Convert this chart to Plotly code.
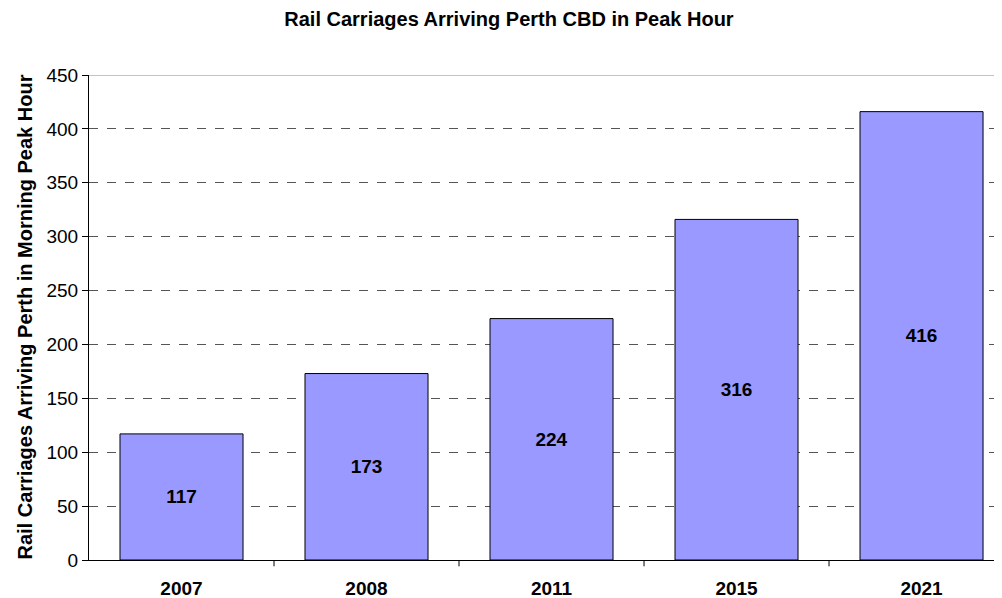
import plotly.graph_objects as go

years = ["2007", "2008", "2011", "2015", "2021"]
carriages = [117, 173, 224, 316, 416]
y_ticks = [0, 50, 100, 150, 200, 250, 300, 350, 400, 450]

fig = go.Figure()
fig.add_trace(go.Bar(
    x=list(range(len(years))), y=carriages, width=0.665,
    marker=dict(color="#9999FF", line=dict(color="black", width=1)),
    text=[str(v) for v in carriages], textposition="inside",
    insidetextanchor="middle", textangle=0,
    textfont=dict(family="Liberation Sans, Arial", size=19, color="black", weight="bold"),
))

shapes = []
for i in range(len(years) - 1):
    shapes.append(dict(type="line", xref="x", yref="paper", x0=i + 0.5, x1=i + 0.5,
                       y0=0, y1=-0.013, line=dict(color="black", width=1)))
shapes.append(dict(type="line", xref="paper", yref="y", x0=0, x1=1, y0=450, y1=450,
                   line=dict(color="#888888", width=1), layer="below"))
fig.update_layout(
    width=994, height=590,
    margin=dict(l=81, r=0, t=67, b=38),
    paper_bgcolor="white", plot_bgcolor="white",
    showlegend=False,
    font=dict(family="Liberation Sans, Arial", color="black"),
    title=dict(text="<b>Rail Carriages Arriving Perth CBD in Peak Hour</b>",
               x=0.504, xanchor="center", y=0.981, yanchor="middle",
               font=dict(size=20)),
    xaxis=dict(range=[-0.5, 4.435], tickvals=list(range(len(years))), ticktext=years,
               tickfont=dict(size=19, weight="bold"), showgrid=False, ticks="",
               showline=True, linecolor="black", linewidth=1, ticklabelstandoff=11,
               zeroline=False, automargin=False),
    yaxis=dict(range=[0, 450], tickvals=y_ticks, tickfont=dict(size=19),
               showgrid=True, gridcolor="#555555", griddash="dash", gridwidth=1,
               ticks="outside", ticklen=6, tickcolor="black",
               showline=True, linecolor="black", linewidth=1, zeroline=False,
               automargin=False),
    annotations=[dict(text="<b>Rail Carriages Arriving Perth in Morning Peak Hour</b>",
                      xref="paper", yref="paper", x=0, y=0.5, xshift=-65,
                      xanchor="center", yanchor="middle", textangle=-90,
                      showarrow=False, font=dict(size=20))],
    shapes=shapes,
)
fig.write_html("out.html")
